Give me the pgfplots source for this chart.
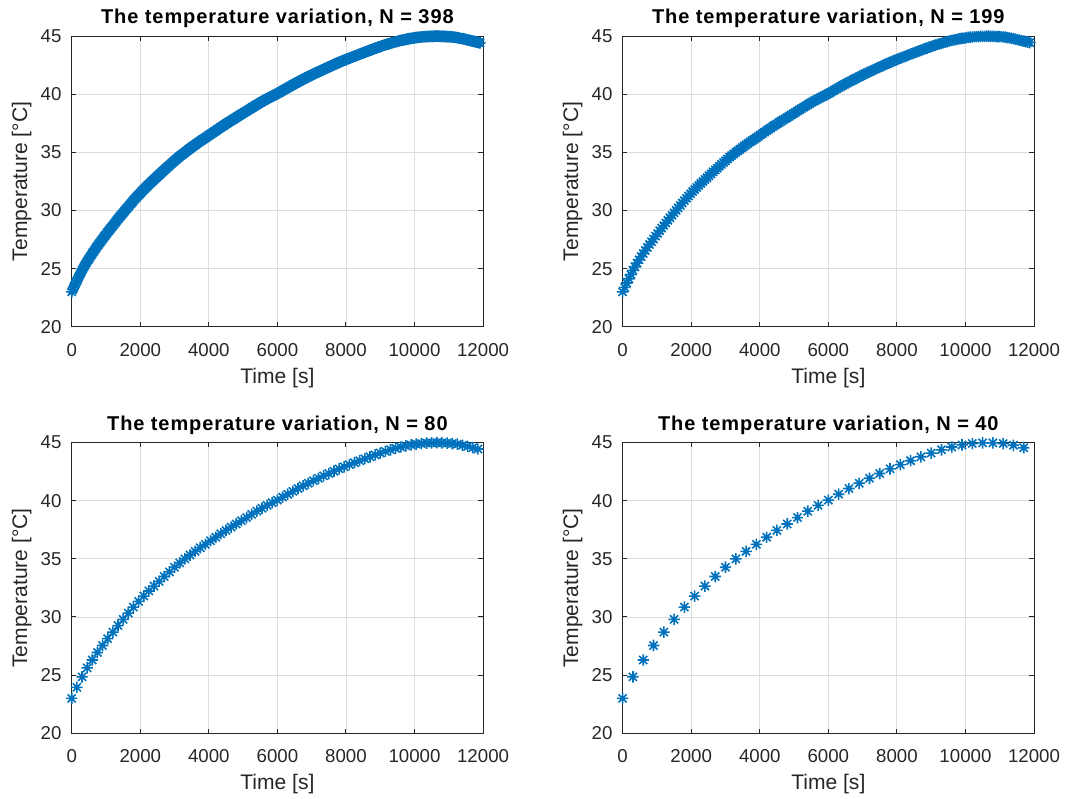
\documentclass[border=0pt]{standalone}
\usepackage{fontspec}
\setmainfont{Liberation Sans}
\usepackage{pgfplots}
\usepackage{pgfplotstable}
\pgfplotsset{compat=1.18}

\definecolor{mblue}{rgb}{0,0.447,0.741}
\definecolor{maxis}{rgb}{0.15,0.15,0.15}
\definecolor{mgrid}{rgb}{0.87,0.87,0.87}

% MATLAB-like '*' marker: plus and cross together
\pgfdeclareplotmark{mstar}{%
  \pgfpathmoveto{\pgfqpoint{-\pgfplotmarksize}{0pt}}%
  \pgfpathlineto{\pgfqpoint{\pgfplotmarksize}{0pt}}%
  \pgfpathmoveto{\pgfqpoint{0pt}{-\pgfplotmarksize}}%
  \pgfpathlineto{\pgfqpoint{0pt}{\pgfplotmarksize}}%
  \pgfpathmoveto{\pgfqpoint{-0.707\pgfplotmarksize}{-0.707\pgfplotmarksize}}%
  \pgfpathlineto{\pgfqpoint{0.707\pgfplotmarksize}{0.707\pgfplotmarksize}}%
  \pgfpathmoveto{\pgfqpoint{-0.707\pgfplotmarksize}{0.707\pgfplotmarksize}}%
  \pgfpathlineto{\pgfqpoint{0.707\pgfplotmarksize}{-0.707\pgfplotmarksize}}%
  \pgfusepathqstroke}

% temperature record, one sample every 30 s (N = 398)
\pgfplotstableread[row sep=\\]{
t T\\
0 23.00\\ 30 23.19\\ 60 23.38\\ 90 23.57\\ 120 23.76\\
150 23.95\\ 180 24.13\\ 210 24.31\\ 240 24.49\\ 270 24.67\\
300 24.85\\ 330 25.00\\ 360 25.16\\ 390 25.31\\ 420 25.47\\
450 25.62\\ 480 25.76\\ 510 25.89\\ 540 26.03\\ 570 26.16\\
600 26.30\\ 630 26.43\\ 660 26.56\\ 690 26.69\\ 720 26.82\\
750 26.95\\ 780 27.07\\ 810 27.19\\ 840 27.31\\ 870 27.43\\
900 27.55\\ 930 27.67\\ 960 27.79\\ 990 27.90\\ 1020 28.02\\
1050 28.14\\ 1080 28.25\\ 1110 28.36\\ 1140 28.48\\ 1170 28.59\\
1200 28.70\\ 1230 28.81\\ 1260 28.92\\ 1290 29.04\\ 1320 29.15\\
1350 29.26\\ 1380 29.37\\ 1410 29.48\\ 1440 29.58\\ 1470 29.69\\
1500 29.80\\ 1530 29.91\\ 1560 30.01\\ 1590 30.12\\ 1620 30.22\\
1650 30.33\\ 1680 30.43\\ 1710 30.54\\ 1740 30.64\\ 1770 30.75\\
1800 30.85\\ 1830 30.95\\ 1860 31.05\\ 1890 31.14\\ 1920 31.24\\
1950 31.34\\ 1980 31.43\\ 2010 31.52\\ 2040 31.62\\ 2070 31.71\\
2100 31.80\\ 2130 31.89\\ 2160 31.98\\ 2190 32.06\\ 2220 32.15\\
2250 32.24\\ 2280 32.32\\ 2310 32.41\\ 2340 32.49\\ 2370 32.58\\
2400 32.66\\ 2430 32.74\\ 2460 32.82\\ 2490 32.91\\ 2520 32.99\\
2550 33.07\\ 2580 33.15\\ 2610 33.23\\ 2640 33.32\\ 2670 33.40\\
2700 33.48\\ 2730 33.56\\ 2760 33.64\\ 2790 33.72\\ 2820 33.80\\
2850 33.88\\ 2880 33.96\\ 2910 34.04\\ 2940 34.12\\ 2970 34.20\\
3000 34.28\\ 3030 34.35\\ 3060 34.43\\ 3090 34.50\\ 3120 34.58\\
3150 34.65\\ 3180 34.72\\ 3210 34.79\\ 3240 34.86\\ 3270 34.93\\
3300 35.00\\ 3330 35.07\\ 3360 35.13\\ 3390 35.20\\ 3420 35.26\\
3450 35.33\\ 3480 35.39\\ 3510 35.46\\ 3540 35.52\\ 3570 35.59\\
3600 35.65\\ 3630 35.71\\ 3660 35.77\\ 3690 35.84\\ 3720 35.90\\
3750 35.96\\ 3780 36.02\\ 3810 36.08\\ 3840 36.13\\ 3870 36.19\\
3900 36.25\\ 3930 36.31\\ 3960 36.37\\ 3990 36.44\\ 4020 36.50\\
4050 36.56\\ 4080 36.62\\ 4110 36.68\\ 4140 36.74\\ 4170 36.80\\
4200 36.86\\ 4230 36.92\\ 4260 36.98\\ 4290 37.04\\ 4320 37.10\\
4350 37.16\\ 4380 37.22\\ 4410 37.28\\ 4440 37.33\\ 4470 37.39\\
4500 37.45\\ 4530 37.51\\ 4560 37.56\\ 4590 37.62\\ 4620 37.67\\
4650 37.73\\ 4680 37.78\\ 4710 37.84\\ 4740 37.89\\ 4770 37.95\\
4800 38.00\\ 4830 38.06\\ 4860 38.11\\ 4890 38.17\\ 4920 38.22\\
4950 38.28\\ 4980 38.33\\ 5010 38.39\\ 5040 38.44\\ 5070 38.50\\
5100 38.55\\ 5130 38.61\\ 5160 38.66\\ 5190 38.72\\ 5220 38.77\\
5250 38.83\\ 5280 38.88\\ 5310 38.94\\ 5340 38.99\\ 5370 39.05\\
5400 39.10\\ 5430 39.15\\ 5460 39.20\\ 5490 39.26\\ 5520 39.31\\
5550 39.36\\ 5580 39.41\\ 5610 39.46\\ 5640 39.50\\ 5670 39.55\\
5700 39.60\\ 5730 39.65\\ 5760 39.69\\ 5790 39.74\\ 5820 39.78\\
5850 39.83\\ 5880 39.87\\ 5910 39.92\\ 5940 39.96\\ 5970 40.01\\
6000 40.05\\ 6030 40.10\\ 6060 40.15\\ 6090 40.21\\ 6120 40.26\\
6150 40.31\\ 6180 40.36\\ 6210 40.41\\ 6240 40.46\\ 6270 40.51\\
6300 40.56\\ 6330 40.61\\ 6360 40.66\\ 6390 40.71\\ 6420 40.76\\
6450 40.81\\ 6480 40.86\\ 6510 40.91\\ 6540 40.95\\ 6570 41.00\\
6600 41.05\\ 6630 41.10\\ 6660 41.14\\ 6690 41.19\\ 6720 41.23\\
6750 41.28\\ 6780 41.32\\ 6810 41.37\\ 6840 41.41\\ 6870 41.46\\
6900 41.50\\ 6930 41.54\\ 6960 41.59\\ 6990 41.63\\ 7020 41.68\\
7050 41.72\\ 7080 41.76\\ 7110 41.80\\ 7140 41.85\\ 7170 41.89\\
7200 41.93\\ 7230 41.97\\ 7260 42.01\\ 7290 42.06\\ 7320 42.10\\
7350 42.14\\ 7380 42.18\\ 7410 42.22\\ 7440 42.26\\ 7470 42.30\\
7500 42.34\\ 7530 42.38\\ 7560 42.42\\ 7590 42.46\\ 7620 42.50\\
7650 42.54\\ 7680 42.58\\ 7710 42.62\\ 7740 42.66\\ 7770 42.70\\
7800 42.74\\ 7830 42.78\\ 7860 42.81\\ 7890 42.85\\ 7920 42.88\\
7950 42.92\\ 7980 42.96\\ 8010 42.99\\ 8040 43.03\\ 8070 43.06\\
8100 43.10\\ 8130 43.13\\ 8160 43.17\\ 8190 43.20\\ 8220 43.24\\
8250 43.27\\ 8280 43.30\\ 8310 43.34\\ 8340 43.37\\ 8370 43.41\\
8400 43.44\\ 8430 43.47\\ 8460 43.51\\ 8490 43.54\\ 8520 43.58\\
8550 43.61\\ 8580 43.64\\ 8610 43.68\\ 8640 43.71\\ 8670 43.75\\
8700 43.78\\ 8730 43.81\\ 8760 43.84\\ 8790 43.88\\ 8820 43.91\\
8850 43.94\\ 8880 43.97\\ 8910 44.00\\ 8940 44.04\\ 8970 44.07\\
9000 44.10\\ 9030 44.13\\ 9060 44.16\\ 9090 44.19\\ 9120 44.22\\
9150 44.25\\ 9180 44.28\\ 9210 44.30\\ 9240 44.33\\ 9270 44.35\\
9300 44.38\\ 9330 44.41\\ 9360 44.43\\ 9390 44.46\\ 9420 44.48\\
9450 44.51\\ 9480 44.53\\ 9510 44.55\\ 9540 44.58\\ 9570 44.60\\
9600 44.62\\ 9630 44.64\\ 9660 44.66\\ 9690 44.68\\ 9720 44.70\\
9750 44.72\\ 9780 44.74\\ 9810 44.75\\ 9840 44.77\\ 9870 44.78\\
9900 44.80\\ 9930 44.81\\ 9960 44.83\\ 9990 44.84\\ 10020 44.86\\
10050 44.87\\ 10080 44.88\\ 10110 44.89\\ 10140 44.90\\ 10170 44.91\\
10200 44.92\\ 10230 44.93\\ 10260 44.94\\ 10290 44.94\\ 10320 44.95\\
10350 44.96\\ 10380 44.96\\ 10410 44.97\\ 10440 44.97\\ 10470 44.98\\
10500 44.98\\ 10530 44.98\\ 10560 44.98\\ 10590 44.99\\ 10620 44.99\\
10650 44.99\\ 10680 44.99\\ 10710 44.99\\ 10740 44.98\\ 10770 44.98\\
10800 44.98\\ 10830 44.98\\ 10860 44.97\\ 10890 44.97\\ 10920 44.96\\
10950 44.96\\ 10980 44.95\\ 11010 44.94\\ 11040 44.94\\ 11070 44.93\\
11100 44.92\\ 11130 44.91\\ 11160 44.90\\ 11190 44.88\\ 11220 44.87\\
11250 44.86\\ 11280 44.84\\ 11310 44.82\\ 11340 44.81\\ 11370 44.79\\
11400 44.77\\ 11430 44.75\\ 11460 44.73\\ 11490 44.71\\ 11520 44.69\\
11550 44.67\\ 11580 44.65\\ 11610 44.63\\ 11640 44.60\\ 11670 44.58\\
11700 44.56\\ 11730 44.54\\ 11760 44.52\\ 11790 44.49\\ 11820 44.47\\
11850 44.45\\ 11880 44.43\\ 11910 44.41\\
}\temps

\newfontfamily\titlefont[LetterSpace=4.5]{Liberation Sans}

\pgfplotsset{
  mpanel/.style={
    scale only axis,
    width=308.5pt, height=218pt,
    xmin=0, xmax=12000, ymin=20, ymax=45,
    xtick={0,2000,...,12000}, ytick={20,25,...,45},
    scaled x ticks=false,
    clip=false,
    /pgf/number format/assume math mode=true,
    /pgf/number format/set thousands separator={},
    xmajorgrids, ymajorgrids,
    major grid style={line width=0.6pt, draw=mgrid},
    axis line style={line width=0.75pt, draw=maxis},
    tick align=inside, major tick length=3.5pt,
    tick style={line width=0.75pt, draw=maxis},
    tick label style={font=\fontsize{14}{16}\selectfont, text=maxis, inner sep=0pt},
    xticklabel style={anchor=center, yshift=-17.2pt},
    yticklabel style={anchor=east, xshift=-7.5pt},
    xlabel={Time [s]}, ylabel={Temperature [°C]},
    every axis x label/.style={at={(axis description cs:0.5,0)}, anchor=center, yshift=-38.3pt,
      font=\fontsize{15.8}{18}\selectfont, text=maxis, inner sep=0pt},
    every axis y label/.style={at={([xshift=-37.5pt]axis description cs:0,0.5)}, rotate=90, anchor=center,
      font=\fontsize{15.8}{18}\selectfont, text=maxis, inner sep=0pt},
    every axis title/.style={at={(axis description cs:0.5,1)}, anchor=center, yshift=13.2pt,
      font=\titlefont\fontsize{15}{18}\selectfont\bfseries, text=black, inner sep=0pt},
  },
  mseries/.style={only marks, mark=mstar, mark size=4.3pt,
    mark options={line width=1.2pt, draw=mblue}},
}

\begin{document}
\begin{tikzpicture}
\path[use as bounding box] (0pt,0pt) rectangle (798.75pt,599.25pt);

\begin{axis}[mpanel, at={(53.8pt,354.2pt)}, anchor=south west,
  title={The temperature variation, N = 398}]
\addplot[mseries] table[x=t, y=T] {\temps};
\end{axis}

\begin{axis}[mpanel, at={(467pt,354.2pt)}, anchor=south west,
  title={The temperature variation, N = 199}]
\addplot[mseries, each nth point=2, filter discard warning=false] table[x=t, y=T] {\temps};
\end{axis}

\begin{axis}[mpanel, at={(53.8pt,49.3pt)}, anchor=south west,
  title={The temperature variation, N = 80}]
\addplot[mseries, each nth point=5, filter discard warning=false] table[x=t, y=T] {\temps};
\end{axis}

\begin{axis}[mpanel, at={(467pt,49.3pt)}, anchor=south west,
  title={The temperature variation, N = 40}]
\addplot[mseries, each nth point=10, filter discard warning=false] table[x=t, y=T] {\temps};
\end{axis}
\end{tikzpicture}
\end{document}
